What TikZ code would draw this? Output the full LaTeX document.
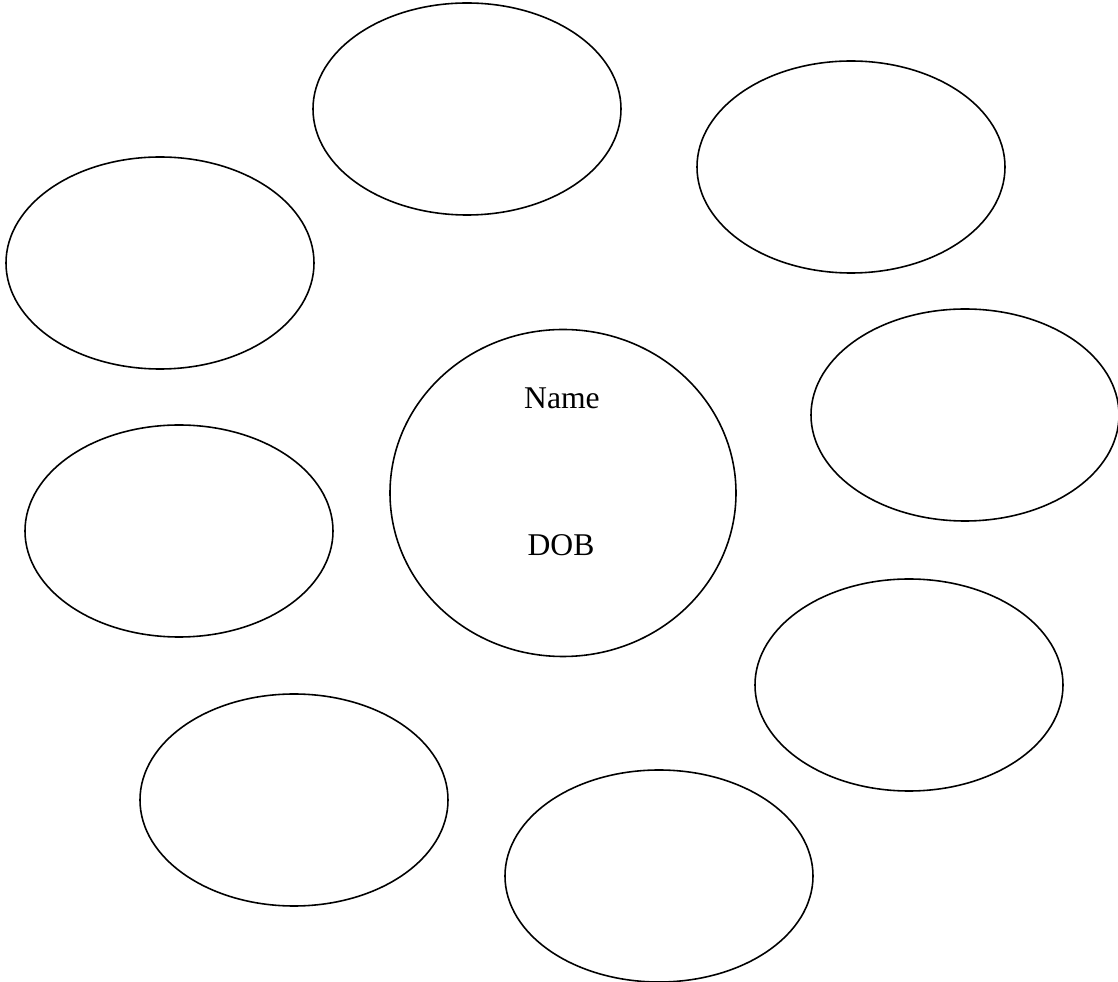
\documentclass[tikz,border=0pt]{standalone}
\usepackage{fontspec}
\setmainfont{Liberation Serif}
\usetikzlibrary{shapes.geometric, calc}
\tikzset{
  every picture/.style={line width=0.9pt},
  blob/.style={draw=black, ellipse, inner sep=0pt, minimum width=6.16cm, minimum height=4.24cm},
  hub/.style={draw=black, ellipse, inner sep=0pt, minimum width=6.92cm, minimum height=6.54cm},
  word/.style={font=\fontsize{18}{22}\selectfont, inner sep=0pt},
}

\begin{document}
\begin{tikzpicture}
  \useasboundingbox (0,0) rectangle (22.36,-19.64);
  % outer ring of empty bubbles
  \foreach \n/\x/\y in {
      top/9.34/-2.18,
      topright/17.02/-3.34,
      left/3.2/-5.26,
      right/19.3/-8.3,
      leftlow/3.58/-10.62,
      rightlow/18.18/-13.7,
      botleft/5.88/-16.0,
      botmid/13.18/-17.52} {
    \node[blob] (\n) at (\x,\y) {};
  }
  % centre bubble
  \node[hub] (centre) at (11.26,-9.86) {};
  \node[word] (name) at ($(centre.center)+(-0.02,1.9)$) {Name};
  \node[word] (dob) at ($(centre.center)+(-0.04,-1.04)$) {DOB};
\end{tikzpicture}
\end{document}
